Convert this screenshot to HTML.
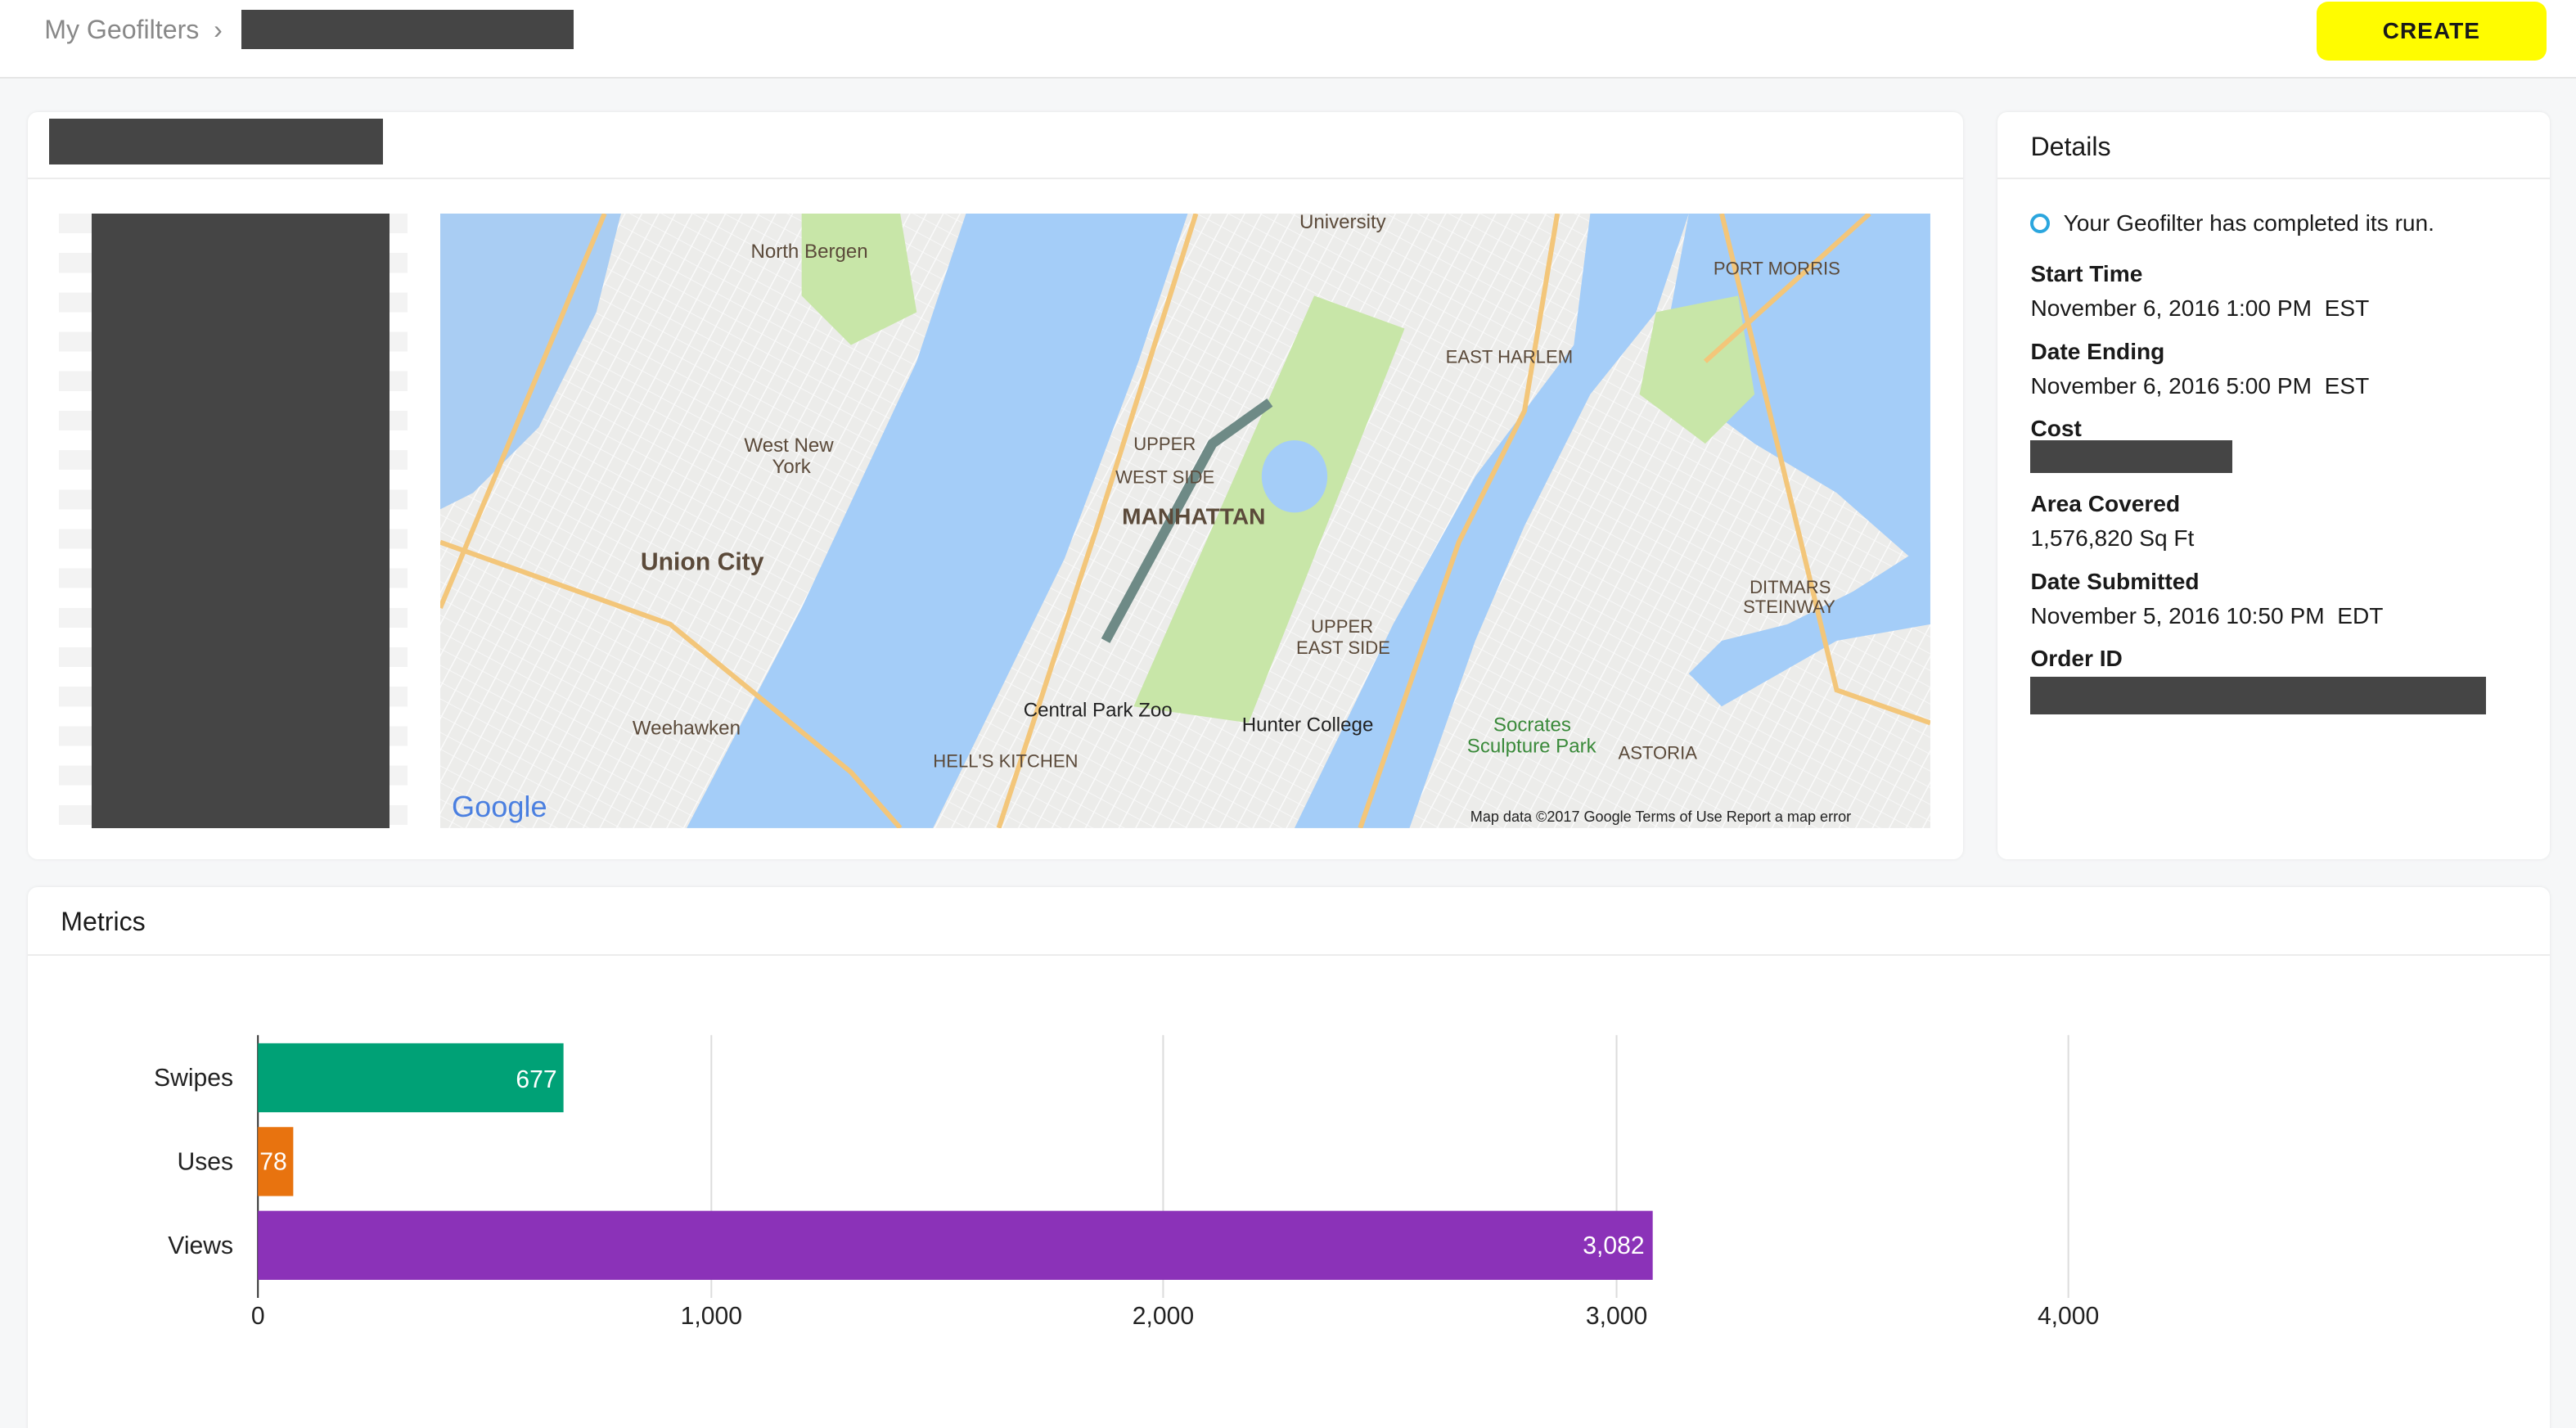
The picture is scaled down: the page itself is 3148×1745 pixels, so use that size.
<!DOCTYPE html>
<html><head><meta charset="utf-8"><style>
html,body{margin:0;padding:0;background:#f6f7f8;overflow:hidden}
#w{position:relative;width:1568px;height:869px;zoom:2.00765;font-family:"Liberation Sans",sans-serif;color:#1a1a1a}
.a{position:absolute}
.p{position:absolute;background:#fff;border-radius:6px;box-shadow:0 0 2px rgba(0,0,0,0.08)}
.blk{position:absolute;background:#454545}
.dt{position:absolute;left:20px;font-size:14px}
.b{font-weight:bold}
</style></head><body><div id="w">
<div class="a" style="left:0;top:0;width:1568px;height:47px;background:#fff;border-bottom:1px solid #e6e6e6"></div>
<div class="a" style="left:27px;top:9px;font-size:16px;color:#888">My Geofilters &nbsp;›</div>
<div class="blk" style="left:147px;top:6px;width:202px;height:24px"></div>
<div class="a" style="left:1410px;top:1px;width:140px;height:36px;background:#fffc00;border-radius:7px;font-weight:bold;font-size:14px;line-height:36px;text-align:center;letter-spacing:0.5px">CREATE</div>

<div class="p" style="left:17px;top:68px;width:1178px;height:455px">
 <div class="a" style="left:0;top:40px;width:1178px;height:1px;background:#ececec"></div>
 <div class="blk" style="left:13px;top:4px;width:203px;height:28px"></div>
 <div class="a" style="left:19px;top:62px;width:212px;height:374px;background:repeating-linear-gradient(#f3f3f3 0 12px,#fff 12px 24px)"></div>
 <div class="blk" style="left:39px;top:62px;width:181px;height:374px"></div>
 <svg class="a" style="left:251px;top:62px" width="907" height="374" viewBox="0 0 907 374" font-family="Liberation Sans" font-size="12" fill="#5b4a3a">
  <defs>
   <pattern id="st" width="9" height="9" patternUnits="userSpaceOnUse" patternTransform="rotate(-62)">
    <rect width="9" height="9" fill="#ececea"/>
    <line x1="0" y1="0" x2="9" y2="0" stroke="#fafafa" stroke-width="1.5"/>
    <line x1="0" y1="0" x2="0" y2="9" stroke="#fafafa" stroke-width="0.8"/>
   </pattern>
  </defs>
  <rect width="907" height="374" fill="url(#st)"/>
  <polygon points="0,0 110,0 95,60 60,130 20,170 0,180" fill="#a9cdf3"/>
  <polygon points="320,0 455,0 425,90 380,210 300,374 150,374 220,240 290,90" fill="#a4cdf8"/>
  <polygon points="700,0 760,0 740,60 700,110 660,190 630,260 590,374 520,374 580,250 630,160 690,80" fill="#a4cdf8"/>
  <polygon points="760,0 907,0 907,220 850,170 800,140 760,110 745,80" fill="#a4cdf8"/>
  <polygon points="907,200 860,230 820,250 780,260 760,280 780,300 850,260 907,250" fill="#a4cdf8"/>
  <polygon points="422,300 492,310 587,70 532,50" fill="#c8e6a8"/>
  <ellipse cx="520" cy="160" rx="20" ry="22" fill="#a4cdf8"/>
  <polygon points="740,60 790,50 800,110 770,140 730,110" fill="#c8e6a8"/>
  <polygon points="220,0 280,0 290,60 250,80 220,50" fill="#c8e6a8"/>
  <g stroke="#f3c67a" stroke-width="3" fill="none">
   <path d="M100,0 L0,240"/><path d="M0,200 L140,250 L250,340 L280,374"/>
   <path d="M460,0 L400,190 L340,374"/><path d="M680,0 L660,120 L620,200 L560,374"/>
   <path d="M780,0 L850,290 L907,310"/><path d="M870,0 L770,90"/>
  </g>
  <polyline points="405,260 470,140 505,115" stroke="#6e8a86" stroke-width="6" fill="none"/>
  <text x="189" y="27">North Bergen</text><text x="185" y="145">West New</text><text x="202" y="158">York</text>
  <text x="122" y="217" font-size="15" font-weight="bold">Union City</text>
  <text x="117" y="317">Weehawken</text><text x="422" y="144" font-size="11">UPPER</text><text x="411" y="164" font-size="11">WEST SIDE</text>
  <text x="415" y="189" font-size="14" font-weight="bold">MANHATTAN</text><text x="612" y="91" font-size="11">EAST HARLEM</text>
  <text x="775" y="37" font-size="11">PORT MORRIS</text><text x="530" y="255" font-size="11">UPPER</text><text x="521" y="268" font-size="11">EAST SIDE</text>
  <text x="355" y="306" fill="#222">Central Park Zoo</text><text x="488" y="315" fill="#222">Hunter College</text>
  <text x="300" y="337" font-size="11">HELL'S KITCHEN</text><text x="523" y="9">University</text>
  <text x="797" y="231" font-size="11">DITMARS</text><text x="793" y="243" font-size="11">STEINWAY</text>
  <text x="641" y="315" fill="#3a8a3a">Socrates</text><text x="625" y="328" fill="#3a8a3a">Sculpture Park</text>
  <text x="717" y="332" font-size="11">ASTORIA</text>
  <text x="7" y="367" font-size="18" fill="#4a7fe0">Google</text>
  <text x="627" y="370" font-size="9" fill="#222">Map data ©2017 Google    Terms of Use    Report a map error</text>
 </svg>
</div>

<div class="p" style="left:1216px;top:68px;width:336px;height:455px">
 <div class="dt" style="top:12px;font-size:16px">Details</div>
 <div class="a" style="left:0;top:40px;width:336px;height:1px;background:#ececec"></div>
 <div class="a" style="left:20px;top:62px;width:8px;height:8px;border:2px solid #2ba6de;border-radius:50%"></div>
 <div class="dt" style="left:40px;top:60px">Your Geofilter has completed its run.</div>
 <div class="dt b" style="top:91px">Start Time</div><div class="dt" style="top:112px">November 6, 2016 1:00 PM &nbsp;EST</div>
 <div class="dt b" style="top:138px">Date Ending</div><div class="dt" style="top:159px">November 6, 2016 5:00 PM &nbsp;EST</div>
 <div class="dt b" style="top:185px">Cost</div><div class="blk" style="left:20px;top:200px;width:123px;height:20px"></div>
 <div class="dt b" style="top:231px">Area Covered</div><div class="dt" style="top:252px">1,576,820 Sq Ft</div>
 <div class="dt b" style="top:278px">Date Submitted</div><div class="dt" style="top:299px">November 5, 2016 10:50 PM &nbsp;EDT</div>
 <div class="dt b" style="top:325px">Order ID</div><div class="blk" style="left:20px;top:344px;width:277px;height:23px"></div>
</div>

<div class="p" style="left:17px;top:540px;width:1535px;height:340px">
 <div class="dt" style="top:12px;font-size:16px">Metrics</div>
 <div class="a" style="left:0;top:41px;width:1535px;height:1px;background:#ececec"></div>
</div>
<svg class="a" style="left:0;top:0" width="1568" height="869" font-family="Liberation Sans" font-size="15" fill="#222">
 <g stroke="#dcdcdc" stroke-width="1"><line x1="433" y1="630" x2="433" y2="790"/><line x1="708" y1="630" x2="708" y2="790"/><line x1="984" y1="630" x2="984" y2="790"/><line x1="1259" y1="630" x2="1259" y2="790"/></g>
 <line x1="157" y1="630" x2="157" y2="790" stroke="#333"/>
 <rect x="157" y="635" width="186" height="42" fill="#00a176"/>
 <rect x="157" y="686" width="21.5" height="42" fill="#e8730f"/>
 <rect x="157" y="737" width="849" height="42" fill="#8b32b8"/>
 <text x="339" y="662" text-anchor="end" fill="#fff">677</text>
 <text x="158" y="712" fill="#fff">78</text>
 <text x="1001" y="763" text-anchor="end" fill="#fff">3,082</text>
 <text x="142" y="661" text-anchor="end">Swipes</text><text x="142" y="712" text-anchor="end">Uses</text><text x="142" y="763" text-anchor="end">Views</text>
 <g text-anchor="middle"><text x="157" y="806">0</text><text x="433" y="806">1,000</text><text x="708" y="806">2,000</text><text x="984" y="806">3,000</text><text x="1259" y="806">4,000</text></g>
</svg>
</div></body></html>
